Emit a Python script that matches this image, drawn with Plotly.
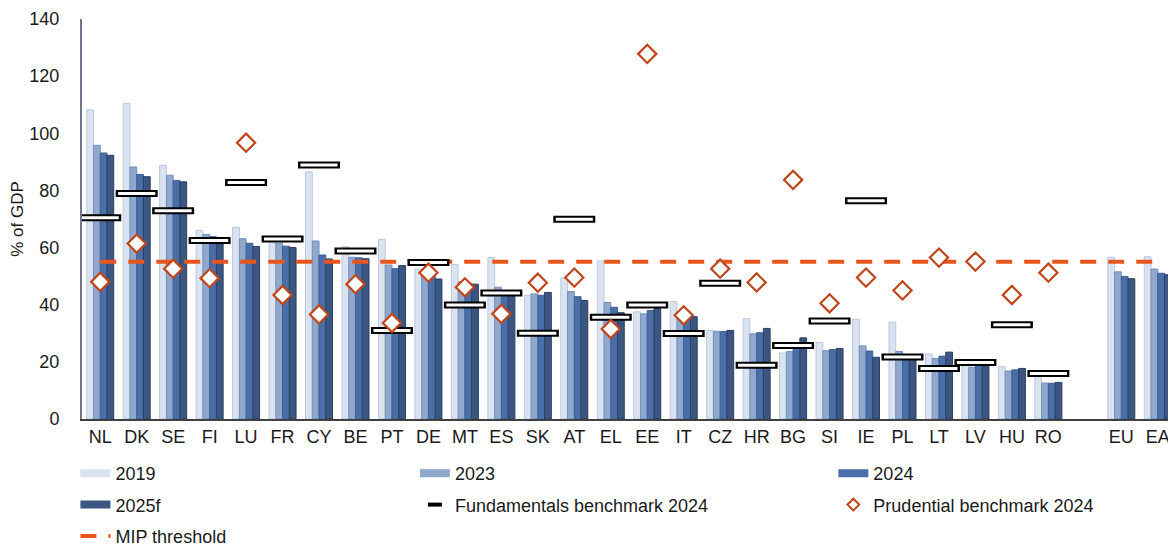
import plotly.graph_objects as go

categories = ["NL", "DK", "SE", "FI", "LU", "FR", "CY", "BE", "PT", "DE", "MT", "ES", "SK", "AT",
              "EL", "EE", "IT", "CZ", "HR", "BG", "SI", "IE", "PL", "LT", "LV", "HU", "RO", " ", "EU", "EA"]

v2019 = [108.2, 110.5, 88.8, 66.0, 67.1, 62.6, 86.5, 60.3, 62.9, 52.5, 54.1, 56.5, 43.3, 49.4,
         55.3, 37.5, 41.1, 31.0, 35.1, 23.1, 26.8, 34.9, 33.9, 22.8, 19.5, 18.3, 14.8, None, 56.6, 56.8]
v2023 = [95.8, 88.2, 85.3, 64.6, 63.1, 61.5, 62.3, 56.6, 53.9, 52.0, 48.0, 46.1, 43.8, 44.6,
         40.8, 36.8, 37.0, 30.7, 29.8, 23.6, 23.9, 25.6, 23.6, 21.2, 18.1, 16.8, 12.6, None, 51.5, 52.5]
v2024 = [93.1, 85.6, 83.5, 63.8, 61.5, 60.5, 57.4, 56.4, 52.6, 50.5, 47.5, 44.5, 43.3, 42.8,
         39.1, 38.0, 36.5, 30.6, 30.2, 24.9, 24.3, 23.8, 22.4, 22.0, 18.9, 17.2, 12.5, None, 49.9, 51.0]
v2025f = [92.3, 84.8, 83.0, 62.1, 60.4, 60.0, 56.0, 56.1, 53.7, 49.0, 47.2, 44.3, 44.3, 41.5,
          37.2, 38.6, 35.8, 31.0, 31.7, 28.4, 24.7, 21.6, 21.2, 23.4, 18.9, 17.7, 12.8, None, 49.1, 50.5]
fundamentals = [70.4, 78.9, 72.9, 62.5, 82.8, 63.0, 88.9, 58.8, 31.0, 54.8, 39.9, 44.1, 30.0, 69.9,
                35.6, 39.9, 29.9, 47.5, 18.8, 25.7, 34.3, 76.4, 21.7, 17.7, 19.8, 33.0, 15.9, None, None, None]
prudential = [48.0, 61.4, 52.6, 49.3, 96.7, 43.4, 36.6, 47.2, 33.6, 51.2, 46.1, 36.8, 47.7, 49.5,
              31.5, 127.8, 36.3, 52.6, 47.8, 83.7, 40.5, 49.5, 45.0, 56.5, 55.1, 43.4, 51.2, None, None, None]
mip_threshold = 55

FONT = "Liberation Sans, Arial, sans-serif"

bar_series = [
    ("2019", v2019, "#DAE3EF", "#B9C9E1", "legend", 1),
    ("2023", v2023, "#8FA8CC", "#7390BE", "legend2", 1),
    ("2024", v2024, "#4A6EA8", "#3E5F94", "legend3", 1),
    ("2025f", v2025f, "#3B5680", "#2A3F62", "legend", 2),
]

fig = go.Figure()

for name, vals, fill, border, leg, rank in bar_series:
    fig.add_trace(go.Bar(
        x=categories, y=vals, name=name, legendgroup=name, showlegend=False,
        marker=dict(color=fill, line=dict(color=border, width=1)),
    ))
    # legend entry (wide swatch)
    fig.add_trace(go.Scatter(
        x=[None], y=[None], mode="lines", name=name, legendgroup=name,
        legend=leg, legendrank=rank, showlegend=True,
        line=dict(color=fill, width=8),
    ))

fig.add_trace(go.Scatter(
    x=categories, y=[mip_threshold] * len(categories), mode="lines",
    name="MIP threshold", legendgroup="MIP", legend="legend", legendrank=3,
    line=dict(color="#E8561E", width=4, dash="16px,12px"),
))

fig.add_trace(go.Scatter(
    x=categories, y=fundamentals, mode="markers", name="Fundamentals benchmark 2024",
    legendgroup="fund", showlegend=False,
    marker=dict(symbol="line-ew", size=30, line=dict(color="#000000", width=7)),
))
fig.add_trace(go.Scatter(
    x=categories, y=fundamentals, mode="markers", name="Fundamentals benchmark 2024",
    legendgroup="fund", showlegend=False, hoverinfo="skip",
    marker=dict(symbol="line-ew", size=26.5, line=dict(color="#FFFFFF", width=3)),
))
fig.add_trace(go.Scatter(
    x=[None], y=[None], mode="markers", name="Fundamentals benchmark 2024",
    legendgroup="fund", legend="legend2", legendrank=2, showlegend=True,
    marker=dict(symbol="line-ew", size=10, line=dict(color="#000000", width=4)),
))

fig.add_trace(go.Scatter(
    x=categories, y=prudential, mode="markers", name="Prudential benchmark 2024",
    legendgroup="prud", showlegend=False,
    marker=dict(symbol="diamond", size=14, color="#FFFFFF",
                line=dict(color="#C0461A", width=2.2)),
))
fig.add_trace(go.Scatter(
    x=[None], y=[None], mode="markers", name="Prudential benchmark 2024",
    legendgroup="prud", legend="legend3", legendrank=2, showlegend=True,
    marker=dict(symbol="diamond", size=9, color="#FFFFFF",
                line=dict(color="#C0461A", width=2)),
))

legend_common = dict(
    orientation="v", traceorder="grouped", tracegroupgap=5,
    font=dict(family=FONT, size=18, color="#1A1A1A"),
    bgcolor="rgba(0,0,0,0)", xanchor="left", yanchor="top", y=-0.09,
)

fig.update_layout(
    width=1168, height=542,
    margin=dict(l=74, r=0, t=11, b=131, autoexpand=False),
    paper_bgcolor="white", plot_bgcolor="white",
    barmode="group", bargap=0.26, bargroupgap=0,
    font=dict(family=FONT, size=18, color="#1A1A1A"),
    legend=dict(x=-0.006, **legend_common),
    legend2=dict(x=0.3043, **legend_common),
    legend3=dict(x=0.6868, **legend_common),
    xaxis=dict(
        type="category", categoryorder="array", categoryarray=categories,
        range=[-0.5, len(categories) - 0.5], automargin=False,
        showline=True, linecolor="#404040", linewidth=2, showgrid=False,
        ticks="", tickfont=dict(family=FONT, size=18, color="#1A1A1A"),
        fixedrange=True,
    ),
    yaxis=dict(
        range=[0, 140], dtick=20, showgrid=False, zeroline=False, automargin=False,
        showline=True, linecolor="#73768F", linewidth=2,
        ticks="", ticklabelstandoff=17,
        tickfont=dict(family=FONT, size=18, color="#1A1A1A"),
        title=dict(text="% of GDP", font=dict(family=FONT, size=17, color="#1A1A1A"), standoff=8),
    ),
)

fig.write_html("out.html")
